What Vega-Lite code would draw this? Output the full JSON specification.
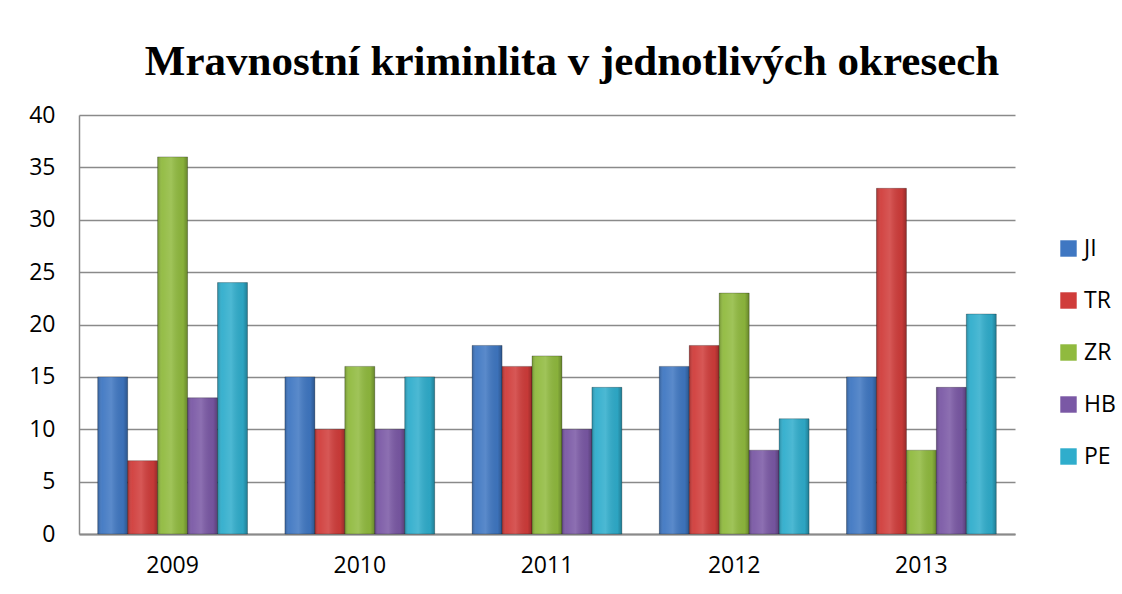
{
  "$schema": "https://vega.github.io/schema/vega-lite/v6.json",
  "autosize": {"type": "none"},
  "width": 936,
  "height": 419,
  "padding": {"left": 79, "top": 115, "right": 107, "bottom": 60},
  "background": "white",
  "title": {
    "text": "Mravnostní kriminlita v jednotlivých okresech",
    "font": "Liberation Serif",
    "fontSize": 43,
    "fontWeight": "bold",
    "color": "black",
    "anchor": "middle",
    "offset": 20,
    "dx": 25
  },
  "data": {
    "values": [
      {"rok": "2009", "okres": "JI", "pocet": 15},
      {"rok": "2009", "okres": "TR", "pocet": 7},
      {"rok": "2009", "okres": "ZR", "pocet": 36},
      {"rok": "2009", "okres": "HB", "pocet": 13},
      {"rok": "2009", "okres": "PE", "pocet": 24},
      {"rok": "2010", "okres": "JI", "pocet": 15},
      {"rok": "2010", "okres": "TR", "pocet": 10},
      {"rok": "2010", "okres": "ZR", "pocet": 16},
      {"rok": "2010", "okres": "HB", "pocet": 10},
      {"rok": "2010", "okres": "PE", "pocet": 15},
      {"rok": "2011", "okres": "JI", "pocet": 18},
      {"rok": "2011", "okres": "TR", "pocet": 16},
      {"rok": "2011", "okres": "ZR", "pocet": 17},
      {"rok": "2011", "okres": "HB", "pocet": 10},
      {"rok": "2011", "okres": "PE", "pocet": 14},
      {"rok": "2012", "okres": "JI", "pocet": 16},
      {"rok": "2012", "okres": "TR", "pocet": 18},
      {"rok": "2012", "okres": "ZR", "pocet": 23},
      {"rok": "2012", "okres": "HB", "pocet": 8},
      {"rok": "2012", "okres": "PE", "pocet": 11},
      {"rok": "2013", "okres": "JI", "pocet": 15},
      {"rok": "2013", "okres": "TR", "pocet": 33},
      {"rok": "2013", "okres": "ZR", "pocet": 8},
      {"rok": "2013", "okres": "HB", "pocet": 14},
      {"rok": "2013", "okres": "PE", "pocet": 21}
    ]
  },
  "encoding": {
    "x": {
      "field": "rok",
      "type": "nominal",
      "scale": {"paddingInner": 0.2, "paddingOuter": 0.1},
      "axis": {
        "title": null,
        "labelAngle": 0,
        "labelFont": "Open Sans",
        "labelFontSize": 23,
        "labelColor": "black",
        "labelPadding": 20,
        "ticks": false,
        "domainColor": "#8a8a8a",
        "domainWidth": 2
      }
    },
    "xOffset": {"field": "okres", "type": "nominal", "sort": ["JI", "TR", "ZR", "HB", "PE"], "scale": {"paddingInner": 0, "paddingOuter": 0}},
    "y": {
      "field": "pocet",
      "type": "quantitative",
      "scale": {"domain": [0, 40]},
      "axis": {
        "title": null,
        "values": [0, 5, 10, 15, 20, 25, 30, 35, 40],
        "labelFont": "Open Sans",
        "labelFontSize": 23,
        "labelColor": "black",
        "labelPadding": 24,
        "ticks": false,
        "domainColor": "#8a8a8a",
        "domainWidth": 1.5,
        "gridColor": "#8a8a8a",
        "gridWidth": 1.5
      }
    }
  },
  "layer": [
    {
      "mark": {"type": "bar", "stroke": "rgba(0,0,0,0.25)", "strokeWidth": 1},
      "encoding": {
        "color": {
          "field": "okres",
          "type": "nominal",
          "sort": ["JI", "TR", "ZR", "HB", "PE"],
          "scale": {
            "domain": ["JI", "TR", "ZR", "HB", "PE"],
            "range": ["#3f77c2", "#d03c3a", "#90ba3e", "#7a58a5", "#2fadcc"]
          },
          "legend": {
            "title": null,
            "orient": "none",
            "legendX": 978,
            "legendY": 122,
            "symbolType": "square",
            "symbolSize": 270,
            "symbolStrokeWidth": 0,
            "labelFont": "Open Sans",
            "labelFontSize": 23,
            "labelColor": "black",
            "labelOffset": 4,
            "rowPadding": 28
          }
        }
      }
    },
    {
      "mark": {
        "type": "bar",
        "fill": {
          "gradient": "linear",
          "x1": 0, "y1": 0, "x2": 1, "y2": 0,
          "stops": [
            {"offset": 0, "color": "rgba(0,0,0,0.22)"},
            {"offset": 0.15, "color": "rgba(255,255,255,0.05)"},
            {"offset": 0.45, "color": "rgba(255,255,255,0.14)"},
            {"offset": 0.85, "color": "rgba(0,0,0,0.05)"},
            {"offset": 1, "color": "rgba(0,0,0,0.28)"}
          ]
        }
      },
      "encoding": {}
    }
  ],
  "config": {"view": {"stroke": null}}
}
